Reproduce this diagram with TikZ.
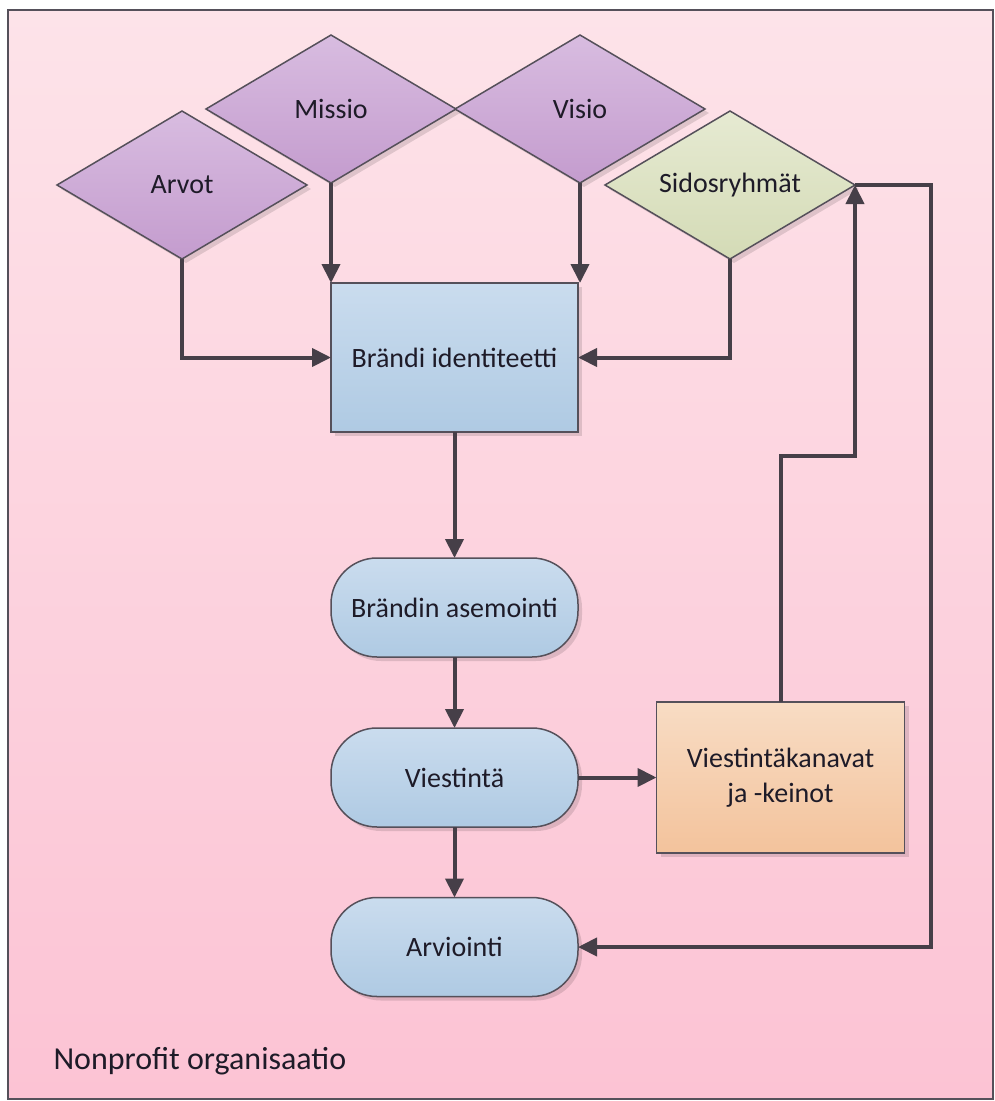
\documentclass[tikz,border=0pt]{standalone}
\usepackage{fontspec}
\setmainfont{Carlito}
\usetikzlibrary{shapes.geometric,arrows.meta,shadows}

\definecolor{linegray}{HTML}{463F48}
\definecolor{edgegray}{HTML}{55505A}
\definecolor{textcol}{HTML}{1E1B28}
\definecolor{bgtop}{HTML}{FDE3E9}
\definecolor{bgbot}{HTML}{FCC3D4}
\definecolor{purtop}{HTML}{D8BCE0}
\definecolor{purbot}{HTML}{C49CCE}
\definecolor{grntop}{HTML}{E6EAD2}
\definecolor{grnbot}{HTML}{D4DBB6}
\definecolor{blutop}{HTML}{CADCEE}
\definecolor{blubot}{HTML}{AFCAE3}
\definecolor{orntop}{HTML}{F8DCC4}
\definecolor{ornbot}{HTML}{F3C39C}

\tikzset{
  base/.style={draw=edgegray, line width=1.5pt, outer sep=0pt, inner sep=2pt,
    text=textcol, font=\fontsize{28}{35}\selectfont,
    drop shadow={shadow xshift=4pt, shadow yshift=-4pt, opacity=.12, fill=black}},
  dmd/.style={base, diamond, aspect=1.7, minimum width=250pt, minimum height=148pt},
  purple dmd/.style={dmd, top color=purtop, bottom color=purbot},
  green dmd/.style={dmd, top color=grntop, bottom color=grnbot},
  bluebox/.style={base, rectangle, minimum width=247pt, minimum height=149pt,
    top color=blutop, bottom color=blubot},
  pill/.style={base, rectangle, rounded corners=46pt, minimum width=247pt, minimum height=99pt,
    top color=blutop, bottom color=blubot},
  orangebox/.style={base, rectangle, align=center, minimum width=248pt, minimum height=151pt,
    top color=orntop, bottom color=ornbot},
  wire/.style={draw=linegray, line width=4pt},
  arr/.style={wire, -{Triangle[length=19pt,width=18pt]}},
}

\begin{document}
\begin{tikzpicture}[x=1pt,y=-1pt]
\useasboundingbox (0,0) rectangle (995,1101);
\shade[top color=bgtop, bottom color=bgbot] (8,10) rectangle (993,1099);
\draw[edgegray, line width=1.5pt] (8,10) rectangle (993,1099);

% diamonds on top
\foreach \nm/\t/\x/\y/\s in {arvot/Arvot/182/185/purple dmd, missio/Missio/331/109/purple dmd,
    visio/Visio/580/109/purple dmd, sidos/Sidosryhmät/730/185/green dmd}
  \node[\s] (\nm) at (\x,\y) {\t};

\node[bluebox] (ident) at (454.5,357.5) {Brändi identiteetti};
\node[pill] (asem) at (454.5,607.5) {Brändin asemointi};
\node[pill] (viest) at (454.5,777.5) {Viestintä};
\node[pill] (arvi) at (454.5,947) {Arviointi};
\node[orangebox] (kanavat) at (780.5,777.5) {Viestintäkanavat\\ja -keinot};

\node[anchor=west, text=textcol, font=\fontsize{32}{38}\selectfont] (org) at (50,1061) {Nonprofit organisaatio};

\draw[arr] (arvot.south) |- (ident.west);
\draw[arr] (missio.south) -- (missio.south |- ident.north);
\draw[arr] (visio.south) -- (visio.south |- ident.north);
\draw[arr] (sidos.south) |- (ident.east);

\draw[arr] (ident.south) -- (asem.north);
\draw[arr] (asem.south) -- (viest.north);
\draw[arr] (viest.south) -- (arvi.north);
\draw[arr] (viest.east) -- (kanavat.west);

% feedback loops
\draw[arr] (kanavat.north) -- ++(0,-246) -| (sidos.east);
\coordinate (turn) at (931,185);
\draw[arr] (sidos.east) -- (turn) |- (arvi.east);
\end{tikzpicture}
\end{document}
